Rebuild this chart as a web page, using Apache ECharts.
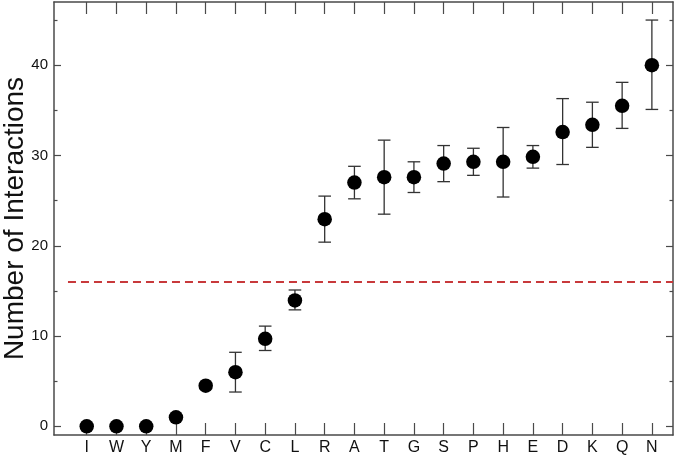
<!DOCTYPE html>
<html>
<head>
<meta charset="utf-8">
<script src="https://cdn.jsdelivr.net/npm/echarts@6/dist/echarts.min.js"></script>
<style>
html,body{margin:0;padding:0;background:#fff;}
#chart{width:675px;height:457px;}
</style>
</head>
<body>
<div id="chart"></div>
<script>
const categories = ['I','W','Y','M','F','V','C','L','R','A','T','G','S','P','H','E','D','K','Q','N'];
const means   = [0, 0, 0, 1.0, 4.5, 6.0, 9.7, 13.95, 22.95, 27.0, 27.6, 27.6, 29.1, 29.3, 29.3, 29.85, 32.6, 33.4, 35.5, 40.0];
const errLow  = [0, 0, 0, 1.0, 4.5, 3.8, 8.4, 12.9, 20.4, 25.2, 23.5, 25.9, 27.1, 27.8, 25.4, 28.6, 29.0, 30.9, 33.0, 35.1];
const errHigh = [0, 0, 0, 1.0, 4.5, 8.2, 11.1, 15.1, 25.5, 28.8, 31.7, 29.3, 31.1, 30.8, 33.1, 31.1, 36.3, 35.9, 38.1, 45.0];
const threshold = 16;
const yMajorTicks = [0, 10, 20, 30, 40];
const yMinorTicks = [5, 15, 25, 35, 45];

const X_MIN = -1.1, X_MAX = 19.71, Y_MIN = -0.96, Y_MAX = 47.0;
const LINE_START = -0.63;
const FONT = '"Liberation Sans", Arial, Helvetica, sans-serif';
const AX = '#4a4a4a';
const catIdx = categories.map((c, i) => i);

const chart = echarts.init(document.getElementById('chart'), null, {renderer: 'canvas'});

function yAx(pos, ticks, len, showLine, showLabel) {
  return {
    type: 'value', position: pos, min: Y_MIN, max: Y_MAX,
    axisLine: {show: showLine, onZero: false, lineStyle: {color: AX, width: 1.5}},
    axisTick: {show: true, inside: true, length: len, customValues: ticks, lineStyle: {color: AX, width: 1.2}},
    axisLabel: {show: showLabel, customValues: ticks, margin: 6, fontSize: 15, color: '#111', fontFamily: FONT},
    splitLine: {show: false}
  };
}

const option = {
  backgroundColor: '#fff',
  animation: false,
  grid: {left: 54, top: 2, right: 2, bottom: 22, containLabel: false, outerBoundsMode: 'none'},
  xAxis: [
    {
      type: 'value', position: 'bottom', min: X_MIN, max: X_MAX,
      axisLine: {show: true, onZero: false, lineStyle: {color: AX, width: 1.5}},
      axisTick: {show: true, inside: true, length: 12, customValues: catIdx, lineStyle: {color: AX, width: 1.2}},
      axisLabel: {show: true, customValues: catIdx, margin: 5, fontSize: 16, color: '#111', fontFamily: FONT,
        formatter: v => categories[Math.round(v)]},
      splitLine: {show: false}
    },
    {
      type: 'value', position: 'top', min: X_MIN, max: X_MAX,
      axisLine: {show: true, onZero: false, lineStyle: {color: AX, width: 1.5}},
      axisTick: {show: true, inside: true, length: 12, customValues: catIdx, lineStyle: {color: AX, width: 1.2}},
      axisLabel: {show: false},
      splitLine: {show: false}
    }
  ],
  yAxis: [
    Object.assign(yAx('left', yMajorTicks, 7, true, true), {
      name: 'Number of Interactions', nameLocation: 'middle', nameGap: 25, nameRotate: 90,
      nameMoveOverlap: false,
      nameTextStyle: {fontSize: 28, color: '#111', fontFamily: FONT}
    }),
    yAx('left', yMinorTicks, 3.5, false, false),
    yAx('right', yMajorTicks, 7, true, false),
    yAx('right', yMinorTicks, 3.5, false, false)
  ],
  series: [
    {
      type: 'line', xAxisIndex: 0, yAxisIndex: 0, symbol: 'none', silent: true, z: 1,
      data: [[LINE_START, threshold], [X_MAX, threshold]],
      lineStyle: {color: '#c8393b', width: 2, type: [8, 5]}
    },
    {
      type: 'custom', xAxisIndex: 0, yAxisIndex: 0, z: 2,
      data: categories.map((c, i) => [i, errLow[i], errHigh[i]]),
      encode: {x: 0, y: [1, 2]},
      renderItem: function (params, api) {
        const x = api.value(0), lo = api.value(1), hi = api.value(2);
        if (lo === hi) return null;
        const pLo = api.coord([x, lo]), pHi = api.coord([x, hi]);
        const hw = 6.3;
        const st = {stroke: '#333', lineWidth: 1.3};
        return {type: 'group', children: [
          {type: 'line', shape: {x1: pLo[0], y1: pLo[1], x2: pHi[0], y2: pHi[1]}, style: st},
          {type: 'line', shape: {x1: pLo[0] - hw, y1: pLo[1], x2: pLo[0] + hw, y2: pLo[1]}, style: st},
          {type: 'line', shape: {x1: pHi[0] - hw, y1: pHi[1], x2: pHi[0] + hw, y2: pHi[1]}, style: st}
        ]};
      }
    },
    {
      type: 'scatter', xAxisIndex: 0, yAxisIndex: 0, z: 3,
      symbol: 'circle', symbolSize: 14.5,
      itemStyle: {color: '#000', opacity: 1},
      data: categories.map((c, i) => [i, means[i]])
    }
  ]
};
chart.setOption(option);
</script>
</body>
</html>
